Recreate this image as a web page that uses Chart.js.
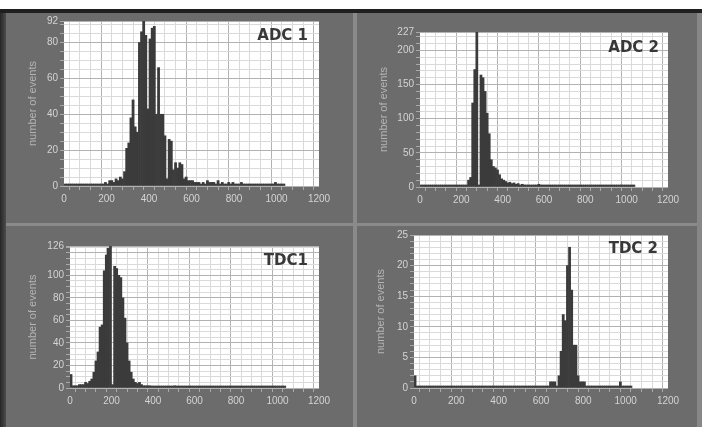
<!DOCTYPE html>
<html>
<head>
<meta charset="utf-8">
<script src="https://cdn.jsdelivr.net/npm/chart.js@4.4.0/dist/chart.umd.min.js"></script>
<style>
  html, body { margin: 0; padding: 0; }
  body { width: 702px; height: 427px; background: #6c6c6c; position: relative; overflow: hidden; }
  .deco { position: absolute; }
  canvas { position: absolute; }
</style>
</head>
<body>
<div class="deco" style="left:0;top:0;width:702px;height:9px;background:#fff"></div>
<div class="deco" style="left:0;top:9px;width:702px;height:4px;background:#1f1f1f"></div>
<div class="deco" style="left:0;top:13px;width:6px;height:414px;background:linear-gradient(to right,#262626,#4c4c4c)"></div>
<div class="deco" style="left:353px;top:13px;width:4px;height:414px;background:#8a8a8a"></div>
<div class="deco" style="left:6px;top:223px;width:696px;height:3px;background:#8a8a8a"></div>
<div class="deco" style="left:697px;top:13px;width:5px;height:414px;background:#878787"></div>

<canvas id="adc1" width="347" height="210" style="left:6px;top:13px"></canvas>
<canvas id="adc2" width="340" height="210" style="left:357px;top:13px"></canvas>
<canvas id="tdc1" width="347" height="201" style="left:6px;top:226px"></canvas>
<canvas id="tdc2" width="340" height="201" style="left:357px;top:226px"></canvas>

<script>
// bin width of the histograms (channels), bins start at 0
const BIN = 10;
const xTickLabels = [0, 200, 400, 600, 800, 1000, 1200];

// counts per bin, bins 0..1030
const adc1Counts = [
  0, 0, 0, 0, 0, 0, 0, 0, 0, 0,
  0, 0, 0, 0, 0, 0, 0, 1, 1, 2,
  1, 3, 3, 2, 4, 3, 5, 4, 8, 21,
  24, 38, 48, 33, 30, 80, 86, 92, 84, 43,
  82, 88, 89, 40, 66, 40, 40, 28, 4, 26,
  25, 9, 13, 10, 13, 12, 4, 5, 3, 3,
  3, 2, 2, 2, 1, 2, 1, 3, 2, 2,
  2, 1, 3, 1, 2, 1, 1, 2, 1, 2,
  1, 1, 1, 2, 1, 1, 1, 1, 1, 1,
  1, 1, 1, 1, 1, 1, 1, 1, 1, 2,
  1, 1, 1, 1
];
const adc2Counts = [
  0, 0, 0, 0, 0, 0, 0, 0, 1, 0,
  0, 1, 0, 0, 1, 0, 1, 0, 1, 1,
  1, 2, 2, 10, 14, 123, 172, 227, 3, 164,
  160, 140, 108, 78, 40, 30, 28, 25, 18, 12,
  10, 8, 6, 7, 5, 6, 4, 5, 3, 4,
  3, 2, 3, 2, 2, 3, 3, 4, 3, 2,
  2, 2, 1, 2, 1, 1, 2, 1, 1, 1,
  1, 1, 2, 1, 1, 1, 1, 1, 2, 1,
  1, 1, 1, 1, 1, 1, 1, 2, 2, 1,
  2, 1, 1, 1, 1, 1, 2, 3, 2, 1,
  1, 1, 1, 0
];
const tdc1Counts = [
  12, 2, 2, 2, 3, 3, 3, 5, 4, 6,
  8, 14, 24, 32, 54, 56, 104, 118, 124, 126,
  3, 108, 106, 100, 98, 80, 62, 40, 24, 14,
  8, 5, 4, 5, 3, 2, 2, 2, 2, 1,
  1, 1, 1, 1, 1, 1, 1, 1, 1, 1,
  2, 1, 1, 1, 1, 1, 1, 1, 1, 1,
  1, 1, 1, 1, 1, 1, 1, 1, 1, 1,
  1, 1, 1, 1, 1, 1, 1, 1, 1, 1,
  1, 1, 1, 1, 1, 1, 1, 1, 1, 1,
  1, 1, 1, 1, 1, 1, 1, 1, 1, 1,
  1, 1, 1, 0
];
const tdc2Counts = [
  2, 0, 0, 0, 0, 0, 0, 0, 0, 0,
  0, 0, 0, 0, 0, 0, 0, 0, 0, 0,
  0, 0, 0, 0, 0, 0, 0, 0, 0, 0,
  0, 0, 0, 0, 0, 0, 0, 0, 0, 0,
  0, 0, 0, 0, 0, 0, 0, 0, 0, 0,
  0, 0, 0, 0, 0, 0, 0, 0, 0, 0,
  0, 0, 0, 0, 1, 1, 1, 0, 2, 6,
  12, 11, 20, 23, 16, 7, 7, 2, 1, 1,
  1, 0, 0, 0, 0, 0, 0, 0, 0, 0,
  0, 0, 0, 0, 0, 0, 0, 1, 0, 0,
  0, 0, 0
];

// y tick labels shown on each graph (last one is the top of the axis)
const adc1YLabels = [0, 20, 40, 60, 80, 92];
const adc2YLabels = [0, 50, 100, 150, 200, 227];
const tdc1YLabels = [0, 20, 40, 60, 80, 100, 126];
const tdc2YLabels = [0, 5, 10, 15, 20, 25];

const panels = [
  { id: 'adc1', name: 'ADC 1', counts: adc1Counts, yLabels: adc1YLabels, yStep: 5, yMajor: 20,
    yW: 38, pad: { left: 20, right: 34, top: 8, bottom: 15 }, nameDx: 11, nameDy: 15 },
  { id: 'adc2', name: 'ADC 2', counts: adc2Counts, yLabels: adc2YLabels, yStep: 10, yMajor: 50,
    yW: 43, pad: { left: 20, right: 29, top: 19, bottom: 14 }, nameDx: 9, nameDy: 16 },
  { id: 'tdc1', name: 'TDC1', counts: tdc1Counts, yLabels: tdc1YLabels, yStep: 5, yMajor: 20,
    yW: 44, pad: { left: 20, right: 34, top: 20, bottom: 17 }, nameDx: 11, nameDy: 15 },
  { id: 'tdc2', name: 'TDC 2', counts: tdc2Counts, yLabels: tdc2YLabels, yStep: 1, yMajor: 5,
    yW: 40, pad: { left: 17, right: 29, top: 9, bottom: 17 }, nameDx: 10, nameDy: 14 }
];

Chart.defaults.font.family = '"Liberation Sans", Arial, sans-serif';
Chart.defaults.font.size = 10;

// white plot area and the graph name in the top right corner
const plotArea = {
  id: 'plotArea',
  beforeDraw(chart) {
    const a = chart.chartArea;
    chart.ctx.save();
    chart.ctx.fillStyle = '#ffffff';
    chart.ctx.fillRect(a.left, a.top, a.right - a.left, a.bottom - a.top);
    chart.ctx.restore();
  },
  afterDatasetsDraw(chart, args, opts) {
    const a = chart.chartArea, ctx = chart.ctx;
    ctx.save();
    ctx.font = 'bold 15px "DejaVu Sans", sans-serif';
    ctx.fillStyle = '#383838';
    ctx.textAlign = 'right';
    ctx.textBaseline = 'middle';
    ctx.fillText(opts.text, a.right - opts.dx, a.top + opts.dy);
    ctx.restore();
  }
};

const MAJOR_GRID = '#b2b2b2';
const MINOR_GRID = '#dadada';

panels.forEach(p => {
  const yMax = p.yLabels[p.yLabels.length - 1];
  new Chart(document.getElementById(p.id), {
    type: 'bar',
    data: {
      datasets: [{
        data: p.counts.map((c, i) => ({ x: i * BIN + BIN / 2, y: c })),
        backgroundColor: '#3b3b3b',
        borderWidth: 0,
        barPercentage: 1,
        categoryPercentage: 1,
        minBarLength: 2
      }]
    },
    plugins: [plotArea],
    options: {
      responsive: false,
      animation: false,
      events: [],
      layout: { padding: p.pad },
      plugins: {
        legend: { display: false },
        tooltip: { enabled: false },
        plotArea: { text: p.name, dx: p.nameDx, dy: p.nameDy }
      },
      scales: {
        x: {
          type: 'linear',
          min: 0,
          max: 1200,
          offset: false,
          afterBuildTicks: s => {
            const t = [];
            for (let v = 0; v <= 1200; v += 50) t.push({ value: v });
            s.ticks = t;
          },
          afterFit: s => { s.height = 22; },
          ticks: {
            autoSkip: false,
            maxRotation: 0,
            padding: 3,
            color: '#d4d4d4',
            callback: v => xTickLabels.includes(v) ? String(v) : ''
          },
          grid: {
            color: c => (c.tick && c.tick.value % 200 === 0) ? MAJOR_GRID : MINOR_GRID,
            tickColor: '#a8a8a8',
            tickLength: 4
          },
          border: { display: false }
        },
        y: {
          min: 0,
          max: yMax,
          afterBuildTicks: s => {
            const t = [];
            for (let v = 0; v < yMax; v += p.yStep) t.push({ value: v });
            t.push({ value: yMax });
            s.ticks = t;
          },
          afterFit: s => { s.width = p.yW; },
          ticks: {
            autoSkip: false,
            padding: 2,
            color: '#d4d4d4',
            callback: v => p.yLabels.includes(v) ? String(v) : ''
          },
          grid: {
            color: c => (c.tick && (c.tick.value % p.yMajor === 0 || c.tick.value === yMax)) ? MAJOR_GRID : MINOR_GRID,
            tickColor: '#a8a8a8',
            tickLength: 4
          },
          border: { display: false },
          title: {
            display: true,
            text: 'number of events',
            color: '#b4b4b4',
            font: { size: 11 },
            padding: { top: 0, bottom: 0 }
          }
        }
      }
    }
  });
});
</script>
</body>
</html>
